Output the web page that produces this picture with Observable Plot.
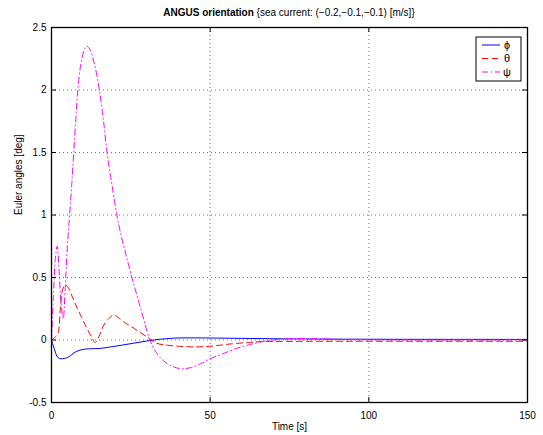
<!DOCTYPE html>
<html>
<head>
<meta charset="utf-8">
<script src="https://cdn.jsdelivr.net/npm/d3@7"></script>
<script src="https://cdn.jsdelivr.net/npm/@observablehq/plot@0.6"></script>
<style>
  html, body { margin: 0; padding: 0; background: #fff; }
  svg { display: block; }
</style>
</head>
<body>
<div id="chart"></div>
<script>
// ---- data ----
const xTicks = [0, 50, 100, 150];
const yTicks = [-0.5, 0, 0.5, 1, 1.5, 2, 2.5];

const phiT = [0, 1, 2, 3, 4, 5, 6, 7, 8, 10, 12, 15, 18, 22, 26, 30, 34, 38, 42, 50, 60, 70, 80, 100, 125, 150];
const phiV = [0, -0.08, -0.14, -0.15, -0.148, -0.14, -0.125, -0.105, -0.09, -0.075, -0.07, -0.068, -0.058, -0.042, -0.025, -0.008, 0.006, 0.014, 0.017, 0.016, 0.013, 0.01, 0.008, 0.006, 0.005, 0.005];

const thetaT = [0, 1, 2, 2.8, 3.5, 4.4, 5.5, 6.5, 8, 9.5, 11, 12.5, 13.8, 15, 16.5, 18, 19.6, 21, 23, 25, 28, 31, 33, 36, 40, 44, 48, 52, 57, 62, 66, 75, 90, 120, 150];
const thetaV = [0, 0.02, 0.05, 0.25, 0.4, 0.44, 0.41, 0.35, 0.26, 0.18, 0.1, 0.03, -0.02, 0.03, 0.12, 0.17, 0.2, 0.18, 0.14, 0.11, 0.06, 0.01, -0.025, -0.04, -0.05, -0.055, -0.053, -0.045, -0.03, -0.02, -0.013, -0.011, -0.01, -0.01, -0.01];

const psiT = [0, 0.6, 1.2, 1.8, 2.4, 3.0, 3.7, 4.3, 5.0, 5.7, 6.4, 7.0, 7.7, 8.3, 9.2, 10.2, 11.2, 12.2, 13.2, 14.2, 15.2, 16.4, 17.5, 19, 20.6, 22, 23.5, 25, 27, 29, 31, 33, 35, 38, 41, 44, 47, 50, 54, 58, 62, 66, 70, 75, 80, 85, 90, 100, 120, 150];
const psiV = [0, 0.35, 0.65, 0.75, 0.55, 0.3, 0.17, 0.4, 0.75, 1.0, 1.25, 1.5, 1.78, 2.0, 2.2, 2.31, 2.35, 2.32, 2.24, 2.13, 1.98, 1.75, 1.5, 1.25, 1.0, 0.83, 0.68, 0.53, 0.35, 0.17, 0.0, -0.1, -0.16, -0.21, -0.23, -0.22, -0.19, -0.15, -0.11, -0.07, -0.04, -0.015, 0.0, 0.01, 0.012, 0.01, 0.005, 0.002, 0, 0];

const seriesNames = ["ϕ", "θ", "ψ"];
const seriesColors = ["#0000ff", "#ff0000", "#ff00ff"];
const seriesDash = [null, "6,4", "6,3,1,3"];

const titleBold = "ANGUS orientation";
const titleRest = " {sea current: (−0.2,−0.1,−0.1) [m/s]}";
const xLabel = "Time [s]";
const yLabel = "Euler angles [deg]";

// ---- build ----
const W = 543, H = 435;
const mL = 51, mR = 16, mT = 27, mB = 33;
const plotW = W - mL - mR, plotH = H - mT - mB;
const font = "Arial, 'Liberation Sans', Helvetica, sans-serif";

const toRows = (ts, vs) => ts.map((t, i) => ({t, v: vs[i]}));
const series = [toRows(phiT, phiV), toRows(thetaT, thetaV), toRows(psiT, psiV)];

const gridStyle = {stroke: "#000", strokeOpacity: 0.55, strokeDasharray: "1,3", strokeWidth: 1};

const svg = Plot.plot({
  width: W, height: H,
  marginLeft: mL, marginRight: mR, marginTop: mT, marginBottom: mB,
  style: {fontFamily: font, fontSize: "10px", background: "#fff", overflow: "visible"},
  x: {domain: [0, 150]},
  y: {domain: [-0.5, 2.5]},
  marks: [
    Plot.ruleX(xTicks.slice(1, -1), {x: d => d, ...gridStyle}),
    Plot.ruleY(yTicks.slice(1, -1), {y: d => d, ...gridStyle}),
    ...series.map((rows, i) => Plot.line(rows, {
      x: "t", y: "v", stroke: seriesColors[i], strokeWidth: 1,
      strokeDasharray: seriesDash[i], curve: "catmull-rom"
    })),
    // inner ticks (MATLAB style) on all four sides
    Plot.ruleX(xTicks, {x: d => d, stroke: "#000", insetTop: plotH - 5}),
    Plot.ruleX(xTicks, {x: d => d, stroke: "#000", insetBottom: plotH - 5}),
    Plot.ruleY(yTicks, {y: d => d, stroke: "#000", insetLeft: plotW - 5}),
    Plot.ruleY(yTicks, {y: d => d, stroke: "#000", insetRight: plotW - 5}),
    Plot.frame({stroke: "#000", strokeWidth: 1.3}),
    Plot.axisX(xTicks, {tickSize: 0, tickPadding: 9, label: null, fontSize: 10, tickFormat: d => String(d)}),
    Plot.axisY(yTicks, {tickSize: 0, tickPadding: 5, label: null, fontSize: 10, tickFormat: d => String(d)}),
    Plot.text([xLabel], {frameAnchor: "bottom", dy: 27, fontSize: 10}),
    Plot.text([yLabel], {frameAnchor: "left", rotate: -90, dx: -33, fontSize: 10})
  ]
});

const s = d3.select(svg);
// title with bold + normal parts
const title = s.append("text")
  .attr("x", mL + plotW / 2).attr("y", 16)
  .attr("text-anchor", "middle")
  .attr("font-family", font).attr("font-size", 10).attr("fill", "#000");
title.append("tspan").attr("font-weight", "bold").text(titleBold);
title.append("tspan").text(titleRest);

// legend box
const lx = 476, ly = 37, lw = 45, lh = 44;
const lg = s.append("g");
lg.append("rect").attr("x", lx).attr("y", ly).attr("width", lw).attr("height", lh)
  .attr("fill", "#fff").attr("stroke", "#000").attr("stroke-width", 1);
seriesNames.forEach((name, i) => {
  const yy = ly + 8 + i * 13.5;
  lg.append("line").attr("x1", lx + 6).attr("x2", lx + 24).attr("y1", yy).attr("y2", yy)
    .attr("stroke", seriesColors[i]).attr("stroke-width", 1)
    .attr("stroke-dasharray", seriesDash[i]);
  lg.append("text").attr("x", lx + 31).attr("y", yy).attr("dy", "0.35em")
    .attr("font-family", font).attr("font-size", 11).text(name);
});

document.getElementById("chart").appendChild(svg);
</script>
</body>
</html>
